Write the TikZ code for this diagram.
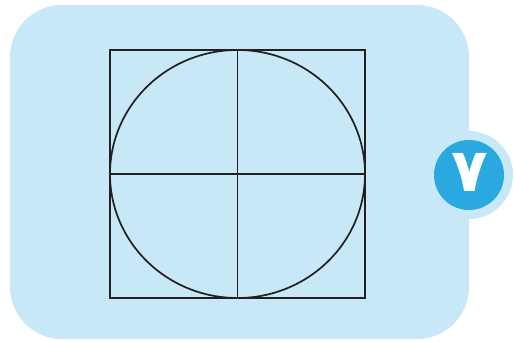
\documentclass[tikz,border=0pt]{standalone}
\usepackage{fontspec}
\newfontfamily\arabicfont[Script=Arabic]{DejaVu Sans}
\TeXXeTstate=1
\definecolor{panel}{HTML}{C8E8F8}
\definecolor{badge}{HTML}{29A9E0}
\definecolor{ink}{HTML}{231F20}
\tikzset{
  linework/.style={draw=ink, line width=1.7pt},
}
\begin{document}
\begin{tikzpicture}[x=1pt,y=-1pt]
\useasboundingbox (0,0) rectangle (514,340);
\fill[panel, rounded corners=52pt] (10,5) rectangle (469,339);
\fill[panel] (469,175) circle (44);
\node[circle, fill=badge, minimum size=70pt, inner sep=0pt] (badge) at (469,175) {};
\node[text=white, font=\arabicfont\bfseries\fontsize{60}{60}\selectfont, inner sep=0pt] (digit) at (469.5,172) {\beginR ٧\endR};
\node[draw=none, minimum width=255pt, minimum height=248pt, inner sep=0pt] (sq) at (237.5,174) {};
\draw[linework] (sq.north west) rectangle (sq.south east);
\draw[linework] (sq.center) ellipse [x radius=127.5, y radius=124];
\draw[linework] (sq.north) -- (sq.south);
\draw[linework] (sq.west) -- (sq.east);
\end{tikzpicture}
\end{document}
